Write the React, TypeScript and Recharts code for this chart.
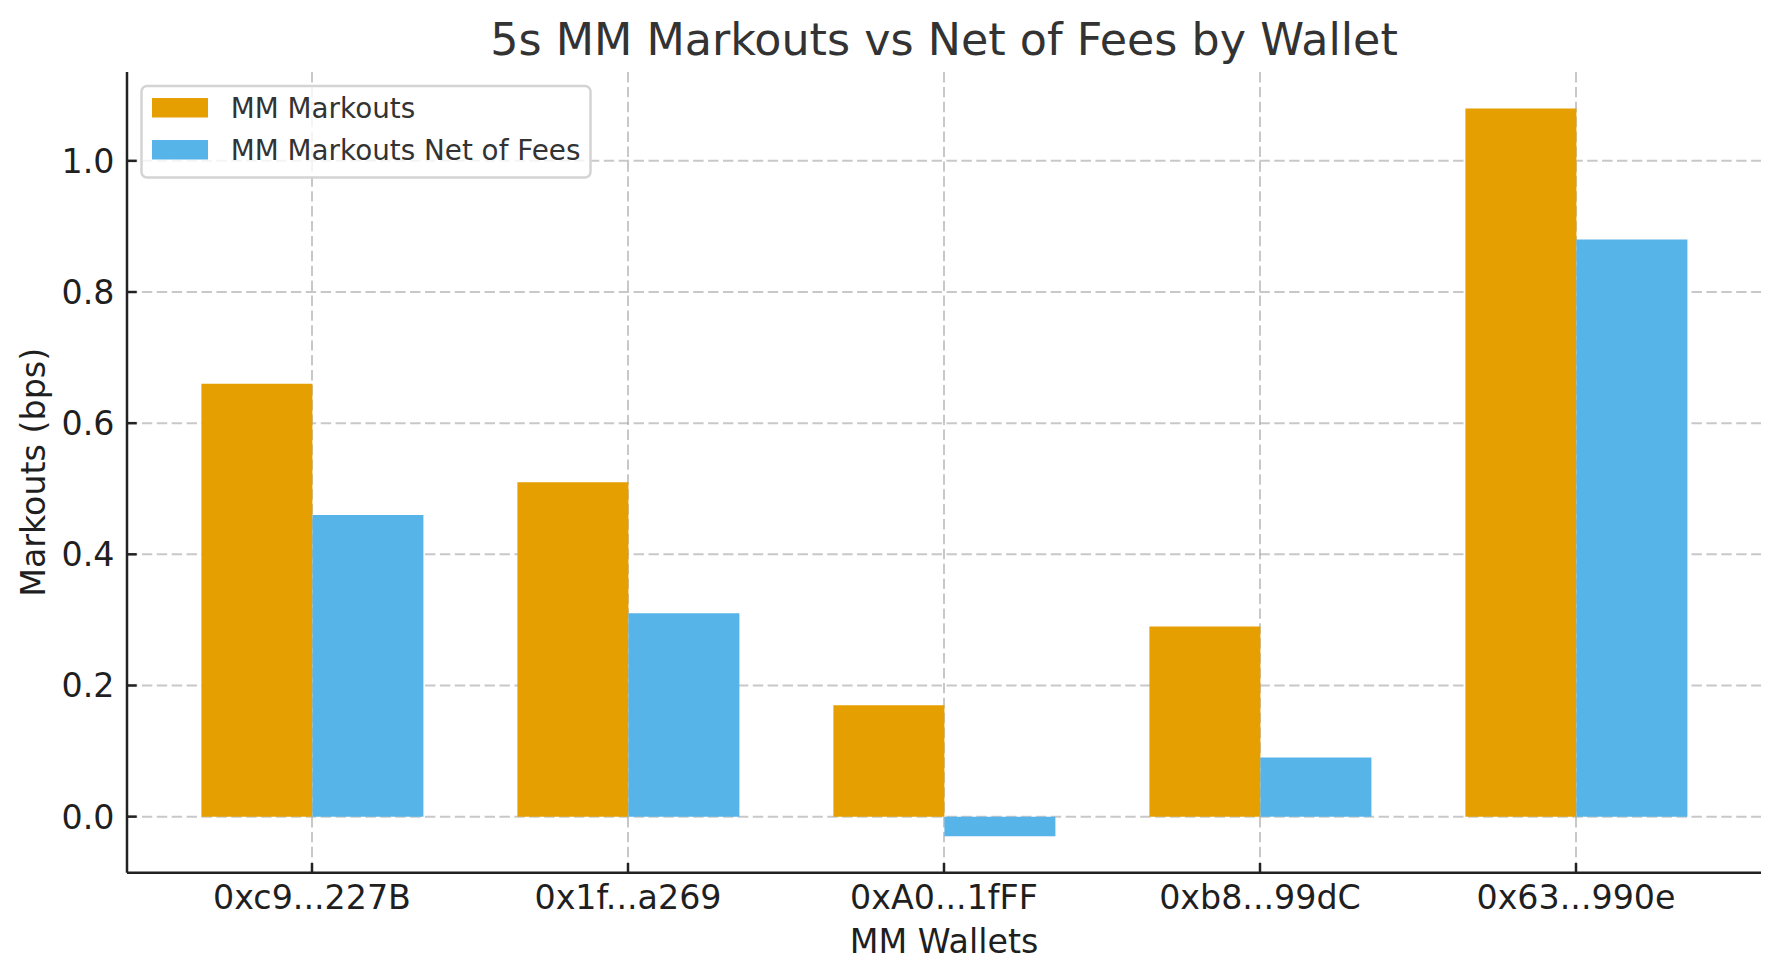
import React from 'react';
import { BarChart, Bar, XAxis, YAxis, CartesianGrid, Legend } from 'recharts';

const WALLETS = ['0xc9...227B', '0x1f...a269', '0xA0...1fFF', '0xb8...99dC', '0x63...990e'];
const MARKOUTS = [0.66, 0.51, 0.17, 0.29, 1.08];
const NET_OF_FEES = [0.46, 0.31, -0.03, 0.09, 0.88];
const Y_TICKS = [0, 0.2, 0.4, 0.6, 0.8, 1.0];
const Y_DOMAIN = [-0.0855, 1.1355];

const SERIES = [
  { key: 'markouts', name: 'MM Markouts', color: '#E69F00' },
  { key: 'net', name: 'MM Markouts Net of Fees', color: '#56B4E9' },
];

const data = WALLETS.map((w, i) => ({ wallet: w, markouts: MARKOUTS[i], net: NET_OF_FEES[i] }));

const W = 1779;
const H = 980;
const FONT = '"DejaVu Sans", sans-serif';
const TICK_FS = 33.3;
const TICK_MARGIN = 12.5;
const TICK_LEN = 9.7;
const AXIS_COLOR = '#222222';
const MARGIN = { top: 72, right: 18, bottom: 0, left: 0 };
const Y_AXIS_W = 127;
const X_AXIS_H = 107.3;

const XTick = (props: any) => {
  const { x, y, payload } = props;
  const axisY = y - TICK_MARGIN;
  return (
    <g>
      <line x1={x} x2={x} y1={axisY} y2={axisY - TICK_LEN} stroke={AXIS_COLOR} strokeWidth={2.5} />
      <text x={x} y={y} dy={24.1} textAnchor="middle" fontFamily={FONT} fontSize={TICK_FS} fill="#1f1f1f">
        {payload.value}
      </text>
    </g>
  );
};

const YTick = (props: any) => {
  const { x, y, payload } = props;
  const axisX = x + TICK_MARGIN;
  return (
    <g>
      <line x1={axisX} x2={axisX + TICK_LEN} y1={y} y2={y} stroke={AXIS_COLOR} strokeWidth={2.5} />
      <text x={x} y={y} dy={12} textAnchor="end" fontFamily={FONT} fontSize={TICK_FS} fill="#1f1f1f">
        {Number(payload.value).toFixed(1)}
      </text>
    </g>
  );
};

const LegendBox = (props: any) => {
  const payload = props.payload || [];
  return (
    <svg width={620} height={200} style={{ display: 'block' }}>
      <rect x={141.5} y={86} width={449} height={91.5} rx={5.5} ry={5.5} fill="#ffffff" fillOpacity={0.8} stroke="#d4d4d4" strokeWidth={2.5} />
      {payload.map((p: any, i: number) => (
        <g key={i}>
          <rect x={152} y={98 + i * 42} width={56} height={19.5} fill={p.color} />
          <text x={230.8} y={117.5 + i * 42} fontFamily={FONT} fontSize={27.8} fill="#333333">
            {p.value}
          </text>
        </g>
      ))}
    </svg>
  );
};

const YLabel = (props: any) => {
  const vb = props.viewBox || {};
  const cy = vb.y + vb.height / 2;
  const bx = 45;
  return (
    <text x={bx} y={cy} transform={`rotate(-90, ${bx}, ${cy})`} textAnchor="middle" fontFamily={FONT} fontSize={TICK_FS} fill="#1f1f1f">
      Markouts (bps)
    </text>
  );
};

const XLabel = (props: any) => {
  const vb = props.viewBox || {};
  const cx = vb.x + vb.width / 2;
  return (
    <text x={cx} y={vb.y + 80} textAnchor="middle" fontFamily={FONT} fontSize={TICK_FS} fill="#1f1f1f">
      MM Wallets
    </text>
  );
};

export default function App() {
  const plotLeft = MARGIN.left + Y_AXIS_W;
  const plotRight = W - MARGIN.right;
  const titleX = (plotLeft + plotRight) / 2;
  return (
    <div style={{ position: 'absolute', left: 0, top: 0, width: W, height: H, background: '#ffffff' }}>
      <BarChart width={W} height={H} data={data} margin={MARGIN} barCategoryGap="15%" barGap={0}>
        <XAxis
          dataKey="wallet"
          height={X_AXIS_H}
          padding={{ left: 27, right: 27 }}
          tickSize={0}
          tickLine={false}
          tickMargin={TICK_MARGIN}
          tick={<XTick />}
          axisLine={{ stroke: AXIS_COLOR, strokeWidth: 2.5 }}
          interval={0}
          label={<XLabel />}
        />
        <YAxis
          type="number"
          width={Y_AXIS_W}
          domain={Y_DOMAIN}
          ticks={Y_TICKS}
          allowDataOverflow
          tickSize={0}
          tickLine={false}
          tickMargin={TICK_MARGIN}
          tick={<YTick />}
          axisLine={{ stroke: AXIS_COLOR, strokeWidth: 2.5 }}
          label={<YLabel />}
        />
        {SERIES.map((s) => (
          <Bar key={s.key} dataKey={s.key} name={s.name} fill={s.color} isAnimationActive={false} />
        ))}
        <CartesianGrid
          syncWithTicks
          stroke="#b0b0b0"
          strokeOpacity={0.7}
          strokeWidth={2}
          strokeDasharray="10.4 4.5"
        />
        <Legend
          layout="vertical"
          align="center"
          verticalAlign="middle"
          content={<LegendBox />}
          wrapperStyle={{ left: 0, top: 0, width: 620, height: 200 }}
        />
      </BarChart>
      <svg width={W} height={70} style={{ position: 'absolute', left: 0, top: 0, pointerEvents: 'none' }}>
        <text x={titleX} y={55} textAnchor="middle" fontFamily={FONT} fontSize={44.4} fill="#333333">
          5s MM Markouts vs Net of Fees by Wallet
        </text>
      </svg>
    </div>
  );
}
